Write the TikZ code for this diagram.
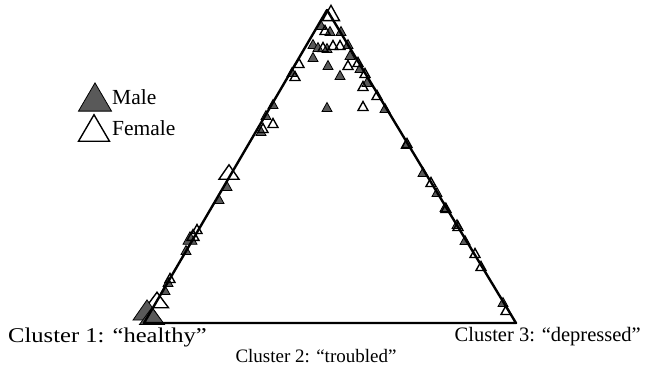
\documentclass[tikz,border=0pt]{standalone}
\usepackage{fontspec}
\setmainfont{Liberation Serif}
\begin{document}
\begin{tikzpicture}[x=1pt,y=-1pt,
  mfilled/.style={draw=black,fill=black!65,line width=0.8pt,line join=miter},
  mopen/.style={draw=black,line width=1.4pt,line join=miter},
  edge/.style={draw=black,line width=2.4pt,line cap=round,line join=round},
  lbl/.style={inner sep=0pt,anchor=west},
  fm/.pic={\path[mfilled] (-5,4.5)--(0,-4.5)--(5,4.5)--cycle;},
  om/.pic={\path[mopen] (-5,4.5)--(0,-4.5)--(5,4.5)--cycle;}]
\useasboundingbox (0,0) rectangle (651,372);
\coordinate (c1) at (144,323);
\coordinate (c3) at (516,323);
\coordinate (c2) at (327,10);
% markers, top
\pic[scale=1.7] at (331,13) {om};
\foreach \x/\y in {321/25,330/31,341/31,313/44,318/47,327/48,348/44,350/55,313/57,292/72,328/65,360/68,340/75,367/82,385/108,327/107,273/104,266/115,261/131,
406/144,423/172,437/192,445/207,457/224,465/240,503/302,227/186,219/199,186/250,168/282,165/290}
  \pic at (\x,\y) {fm};
\foreach \x/\y in {325/30,323/47,333/45,340/45,299/63,295/76,348/65,358/62,365/73,363/86,377/95,363/106,273/123,263/128,
407/143,431/182,446/208,458/226,475/253,481/266,506/310,197/229,170/278}
  \pic at (\x,\y) {om};
\pic[scale=1.4] at (190,238) {fm};
\pic[scale=1.2] at (193,235) {om};
\pic[scale=2.0,yscale=0.8] at (229,172) {om};
\pic[scale=2.3,yscale=0.75] at (157,300) {om};
\pic[scale=2.8,yscale=0.8] at (147,310) {fm};
\pic[scale=2.5,yscale=0.75] at (152,316) {fm};
% main triangle
\draw[edge] (c1) -- (c2) -- (c3) -- cycle;
% legend
\pic[scale=3.3,yscale=0.95] at (95,97) {fm};
\pic[scale=3.1,yscale=0.95] at (94,128) {om};
\node[lbl,font=\fontsize{21.5}{24}\selectfont] (male) at (112,97) {Male};
\node[lbl,font=\fontsize{21.5}{24}\selectfont] (female) at (112,128) {Female};
% labels
\node[lbl,font=\fontsize{21}{24}\selectfont] (l1) at (8,337) {\scalebox{1.17}[1]{Cluster 1: “healthy”}};
\node[anchor=east,inner sep=0pt,font=\fontsize{20.5}{24}\selectfont] (l3) at (641,337) {Cluster 3: “depressed”};
\node[inner sep=0pt,font=\fontsize{19}{24}\selectfont] (l2) at (316,356) {Cluster 2: “troubled”};
\end{tikzpicture}
\end{document}
